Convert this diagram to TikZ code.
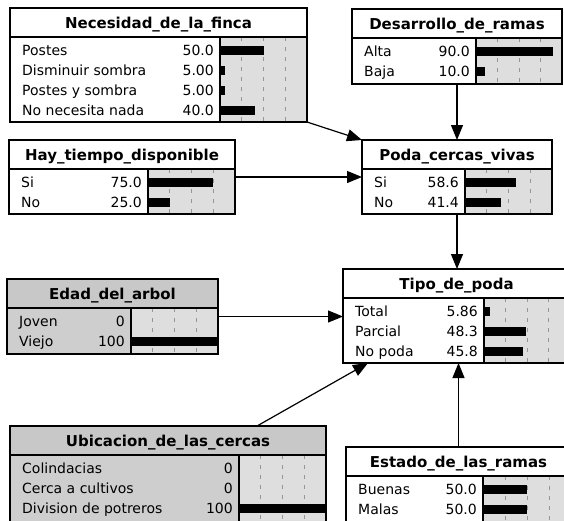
\documentclass[tikz,border=0pt]{standalone}
\usepackage{fontspec}
\setmainfont{DejaVu Sans}
\usetikzlibrary{arrows.meta}

\definecolor{barbg}{RGB}{222,222,222}
\definecolor{evidtitle}{RGB}{200,200,200}
\definecolor{evidbody}{RGB}{206,206,206}
\definecolor{gridc}{RGB}{150,150,150}

\tikzset{
  frame/.style={draw=black, line width=1.2pt},
  plain title/.style={fill=white},
  plain body/.style={fill=white},
  evid title/.style={fill=evidtitle},
  evid body/.style={fill=evidbody},
  gridline/.style={draw=gridc, line width=0.8pt, dash pattern=on 4pt off 6pt},
  rowlabel/.style={anchor=base west, inner sep=0pt, font=\fontsize{14}{15}\selectfont},
  rowvalue/.style={anchor=base east, inner sep=0pt, font=\fontsize{14}{15}\selectfont},
  titletext/.style={anchor=base, inner sep=0pt, font=\bfseries\fontsize{15}{16}\selectfont},
  link/.style={line width=1.2pt, -{Triangle[length=15pt,width=12pt]}},
}

% #1 name, #2 left, #3 top, #4 right, #5 bottom, #6 divider x,
% #7 title, #8 plain/evid, #9 rows as label/value/percent
\newcommand\cptbox[9]{%
  \pgfmathsetmacro\tb{#3+29}%
  \pgfmathsetmacro\bw{#4-#6}%
  \fill[#8 title] (#2,#3) rectangle (#4,\tb);
  \fill[#8 body] (#2,\tb) rectangle (#6,#5);
  \fill[barbg] (#6,\tb) rectangle (#4,#5);
  \foreach \k in {1,2,3}
    \draw[gridline] ({#6+\k*\bw/4},\tb) -- ({#6+\k*\bw/4},#5);
  \foreach [count=\i] \lab/\val/\pct in {#9} {
    \pgfmathsetmacro\ry{\tb+13.5+20*(\i-1)}
    \node[rowlabel] at (#2+12,\ry+5) {\lab};
    \node[rowvalue] at (#6-6,\ry+5) {\val};
    \ifdim\pct pt>0pt
      \fill (#6+1,\ry-4.5) rectangle ({#6+1+(\bw-2)*\pct/100},\ry+4.5);
    \fi
  }
  \node[titletext] at ({(#2+#4)/2},#3+20) {#7};
  \draw[frame] (#2,\tb) -- (#4,\tb) (#6,\tb) -- (#6,#5);
  \node[frame, anchor=north west, inner sep=0pt, outer sep=0pt,
        minimum width={(#4-#2)*1pt}, minimum height={(#5-#3)*1pt}] (#1) at (#2,#3) {};
}

\begin{document}
\begin{tikzpicture}[x=1pt,y=-1pt]
  \useasboundingbox (0,0) rectangle (564,520);
  \clip (0,0) rectangle (564,520);

  \cptbox{nec}{10}{8}{307}{122}{220}{Necesidad\_de\_la\_finca}{plain}
    {Postes/50.0/50, Disminuir sombra/5.00/5, Postes y sombra/5.00/5, No necesita nada/40.0/40}
  \cptbox{des}{352}{9}{562}{84}{476}{Desarrollo\_de\_ramas}{plain}
    {Alta/90.0/90, Baja/10.0/10}
  \cptbox{hay}{9}{140}{235}{214}{148}{Hay\_tiempo\_disponible}{plain}
    {Si/75.0/75, No/25.0/25}
  \cptbox{poda}{362}{140}{552}{214}{465}{Poda\_cercas\_vivas}{plain}
    {Si/58.6/58.6, No/41.4/41.4}
  \cptbox{edad}{7}{279}{218}{354}{131}{Edad\_del\_arbol}{evid}
    {Joven/0/0, Viejo/100/100}
  \cptbox{tipo}{343}{269}{570}{363}{484}{Tipo\_de\_poda}{plain}
    {Total/5.86/5.86, Parcial/48.3/48.3, No poda/45.8/45.8}
  \cptbox{ubic}{10}{426}{326}{524}{239}{Ubicacion\_de\_las\_cercas}{evid}
    {Colindacias/0/0, Cerca a cultivos/0/0, Division de potreros/100/100}
  \cptbox{est}{346}{447}{571}{524}{483}{Estado\_de\_las\_ramas}{plain}
    {Buenas/50.0/50, Malas/50.0/50}

  % dependencies between the variables
  \draw[link] (nec.south east) -- (poda.north west);
  \draw[link] (des.south) -- (des.south |- poda.north);
  \draw[link] (hay.east) -- (hay.east -| poda.west);
  \draw[link] (poda.south) -- (poda.south |- tipo.north);
  \draw[link] (edad.east) -- (edad.east -| tipo.west);
  \draw[link] ([xshift=247pt]ubic.north west) -- ([xshift=25pt]tipo.south west);
  \draw[link] (est.north) -- (est.north |- tipo.south);
\end{tikzpicture}
\end{document}
